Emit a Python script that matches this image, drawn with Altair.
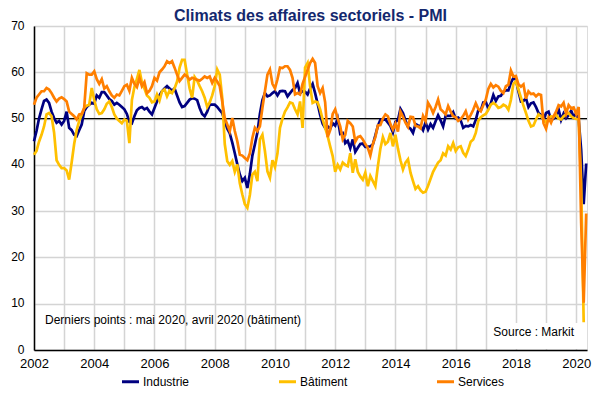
import altair as alt
import pandas as pd

START_YEAR = 2002
SERIES = ["Industrie", "Bâtiment", "Services"]
COLORS = ["#000080", "#FFC000", "#FF7F00"]
YEAR_TICKS = list(range(2002, 2021))
VALUE_TICKS = list(range(0, 80, 10))
TITLE = "Climats des affaires sectoriels  - PMI"
NOTE = "Derniers points : mai 2020, avril 2020 (bâtiment)"
SOURCE = "Source : Markit"

# Monthly values, Jan 2002 -> May 2020 (Bâtiment ends Apr 2020)
industrie = [
    45.1, 47.3, 50.0, 52.0, 53.8, 54.1, 53.4, 51.5, 50.1, 49.1, 49.5, 48.7,  # 2002
    49.5, 51.5, 48.0, 47.5, 46.5, 46.2, 47.5, 48.7, 51.6, 52.5, 53.0, 53.4,  # 2003
    53.2, 55.0, 54.5, 55.7, 55.7, 55.0, 54.2, 53.8, 53.0, 53.4, 53.0, 52.5,  # 2004
    52.0, 51.0, 49.3, 49.0, 50.5, 51.8, 52.3, 52.5, 52.0, 52.3, 51.5, 50.9,  # 2005
    52.3, 53.7, 55.0, 55.9, 56.5, 57.0, 56.5, 56.0, 56.5, 55.0, 53.5, 52.5,  # 2006
    52.7, 53.4, 54.1, 54.4, 54.3, 54.0, 52.3, 51.0, 50.5, 51.5, 53.0, 53.0,  # 2007
    53.0, 52.5, 51.8, 51.2, 49.4, 47.8, 46.8, 44.8, 42.5, 40.1, 37.9, 36.5,  # 2008
    37.2, 35.0, 38.0, 42.0, 44.4, 47.0, 51.0, 54.0, 55.5, 54.8, 55.0, 55.5,  # 2009
    55.9, 55.0, 55.9, 56.0, 55.9, 54.8, 55.5, 56.2, 56.6, 57.7, 55.5, 55.9,  # 2010
    55.8, 55.2, 56.5, 57.5, 55.5, 53.2, 50.8, 48.9, 48.0, 48.3, 47.8, 49.0,  # 2011
    48.5, 50.0, 46.7, 46.9, 44.7, 45.2, 43.6, 45.5, 42.8, 43.7, 44.5, 44.6,  # 2012
    43.9, 43.9, 44.0, 44.4, 46.4, 48.4, 49.7, 49.7, 49.8, 49.1, 48.4, 47.0,  # 2013
    49.3, 49.7, 52.1, 51.2, 49.6, 48.2, 47.8, 46.9, 48.8, 48.5, 48.4, 47.5,  # 2014
    49.2, 47.6, 48.8, 48.0, 49.4, 50.7, 49.6, 48.3, 50.6, 50.6, 50.6, 51.4,  # 2015
    50.0, 50.2, 49.6, 48.0, 48.4, 48.3, 48.6, 48.3, 49.7, 51.8, 51.7, 53.5,  # 2016
    53.6, 52.2, 53.3, 55.1, 53.8, 54.8, 54.9, 55.8, 56.1, 56.1, 57.7, 58.8,  # 2017
    58.4, 55.9, 53.7, 53.8, 54.4, 52.5, 53.3, 53.5, 52.5, 51.2, 50.8, 49.7,  # 2018
    51.2, 51.5, 49.7, 50.0, 50.6, 52.0, 49.7, 51.1, 50.1, 50.7, 51.7, 50.4,  # 2019
    51.1, 49.8, 43.2, 31.5, 40.3,                                            # 2020
]

batiment = [
    42.2, 43.0, 45.0, 46.5, 48.3, 50.9, 51.2, 50.5, 47.0, 41.0, 40.0, 39.3,  # 2002
    39.3, 38.8, 36.8, 40.5, 44.5, 47.5, 49.5, 50.8, 52.3, 52.8, 53.0, 56.6,  # 2003
    54.0, 52.0, 51.0, 51.2, 52.0, 53.2, 53.7, 52.5, 50.9, 50.0, 49.5, 49.0,  # 2004
    49.8, 49.5, 44.7, 54.0, 56.8, 58.6, 60.5, 57.8, 56.5, 55.0, 54.5, 53.5,  # 2005
    53.7, 55.2, 53.9, 55.9, 56.3, 54.8, 56.0, 55.5, 56.5, 58.0, 61.0, 62.7,  # 2006
    62.7, 59.5, 56.5, 54.5, 59.0, 58.2, 57.0, 55.9, 54.5, 52.5, 53.5, 55.0,  # 2007
    57.0, 60.6, 59.5, 54.5, 44.5, 40.8, 40.0, 40.8, 38.5, 40.1, 36.0, 33.6,  # 2008
    31.5, 30.7, 33.5, 37.9, 38.5, 36.5, 45.5, 46.5, 43.0, 38.6, 37.2, 41.0,  # 2009
    39.5, 42.5, 48.0, 50.0, 51.5, 52.4, 53.5, 53.3, 52.0, 50.9, 53.7, 48.0,  # 2010
    61.0, 62.0, 57.0, 53.4, 53.7, 53.5, 52.0, 49.8, 48.0, 46.2, 44.0, 41.9,  # 2011
    38.5, 40.0, 39.0, 40.5, 40.0, 39.7, 42.5, 38.3, 41.2, 38.5, 37.5, 36.8,  # 2012
    38.3, 35.4, 37.6, 36.5, 35.4, 39.7, 43.5, 46.0, 44.5, 45.0, 46.9, 44.0,  # 2013
    46.5, 43.5, 41.0, 39.0, 40.5, 41.2, 38.3, 36.5, 34.8, 35.4, 34.5, 34.0,  # 2014
    34.2, 35.5, 37.0, 38.5, 39.5, 40.5, 41.0, 42.5, 42.0, 44.0, 43.3, 44.7,  # 2015
    43.0, 43.8, 44.0, 42.6, 41.9, 43.3, 45.0, 45.5, 46.9, 49.5, 50.3, 50.7,  # 2016
    51.0, 51.9, 53.0, 53.4, 53.0, 52.3, 52.5, 53.0, 52.7, 51.9, 54.0, 57.5,  # 2017
    58.1, 56.3, 54.5, 52.8, 51.2, 49.5, 48.3, 48.5, 49.8, 50.9, 50.5, 49.8,  # 2018
    49.1, 50.0, 50.5, 50.3, 50.9, 50.0, 49.8, 50.5, 50.9, 51.2, 50.5, 50.1,  # 2019
    49.9, 49.8, 36.0, 6.0,                                                   # 2020
]

services = [
    53.0, 54.5, 55.2, 55.9, 55.9, 56.6, 56.3, 55.5, 54.5, 53.7, 54.3, 54.6,  # 2002
    54.2, 53.7, 51.5, 51.0, 50.5, 49.8, 50.9, 51.0, 52.3, 59.8, 59.5, 59.5,  # 2003
    60.2, 58.5, 57.5, 58.5, 56.5, 57.0, 55.9, 55.0, 54.5, 55.2, 55.0, 56.0,  # 2004
    57.0, 57.3, 56.0, 58.8, 57.5, 56.8, 58.8, 57.0, 57.9, 55.5, 56.0, 57.0,  # 2005
    58.8, 58.2, 60.0, 60.6, 61.3, 62.4, 62.0, 62.4, 61.0, 59.5, 58.1, 58.8,  # 2006
    59.5, 59.1, 58.4, 58.8, 58.6, 58.4, 58.2, 58.6, 59.1, 58.8, 59.1, 57.7,  # 2007
    58.8, 58.0, 57.0, 53.7, 50.1, 48.7, 47.3, 50.1, 47.3, 45.1, 42.2, 42.0,  # 2008
    41.5, 41.0, 42.5, 45.8, 48.0, 47.3, 48.3, 52.3, 55.9, 59.5, 60.6, 57.5,  # 2009
    56.5, 58.5, 61.0, 60.9, 61.3, 61.3, 60.5, 58.8, 55.2, 55.5, 55.2, 57.5,  # 2010
    59.0, 60.5, 62.0, 62.9, 62.0, 57.0, 55.5, 56.6, 53.5, 46.0, 47.5, 51.0,  # 2011
    52.0, 50.0, 48.3, 45.5, 46.5, 49.5, 49.0, 48.3, 45.0, 46.0, 46.2, 45.5,  # 2012
    44.5, 43.7, 42.0, 44.5, 46.0, 48.5, 48.6, 50.0, 50.9, 50.5, 48.8, 47.6,  # 2013
    48.9, 47.2, 51.5, 50.4, 49.1, 48.2, 50.4, 50.3, 48.4, 48.3, 47.9, 50.6,  # 2014
    49.5, 53.4, 52.5, 51.2, 52.5, 54.1, 52.0, 51.5, 50.9, 52.7, 51.5, 50.5,  # 2015
    50.3, 49.5, 49.9, 50.6, 51.6, 49.8, 50.8, 51.9, 53.3, 52.1, 51.6, 52.9,  # 2016
    54.1, 56.4, 57.5, 56.7, 57.2, 56.9, 56.0, 55.5, 57.0, 57.3, 60.4, 59.1,  # 2017
    59.2, 57.4, 56.9, 57.4, 54.3, 55.9, 55.3, 55.4, 54.8, 55.3, 55.1, 49.0,  # 2018
    47.8, 50.2, 49.1, 50.5, 51.5, 52.9, 52.6, 53.4, 51.1, 52.9, 52.2, 52.4,  # 2019
    51.0, 52.5, 27.4, 10.2, 29.5,                                            # 2020
]

rows = []
for name, vals in zip(SERIES, [industrie, batiment, services]):
    for i, v in enumerate(vals):
        rows.append({"t": START_YEAR + i / 12.0, "valeur": v, "serie": name})
df = pd.DataFrame(rows)

FONT = "Liberation Sans"

x_enc = alt.X(
    "t:Q",
    scale=alt.Scale(domain=[2002, 2020.36], nice=False, zero=False),
    axis=alt.Axis(
        values=YEAR_TICKS, format="d",
        labelExpr="datum.value % 2 == 0 ? datum.label : ''",
        title=None, grid=True, gridColor="#D4D4D4", gridWidth=1.5,
        domainColor="#000000", domainWidth=1.5,
        tickColor="#D4D4D4", tickSize=0,
        labelFont=FONT, labelFontSize=13, labelColor="#000000", labelPadding=7,
        labelFlush=False,
    ),
)
y_enc = alt.Y(
    "valeur:Q",
    scale=alt.Scale(domain=[0, 70], nice=False),
    axis=alt.Axis(
        values=VALUE_TICKS, title=None, grid=True, gridColor="#D4D4D4", gridWidth=1.5,
        domainColor="#000000", domainWidth=1.5, ticks=False,
        labelFont=FONT, labelFontSize=12, labelColor="#000000", labelPadding=10,
        labelOffset=-1,
    ),
)

lines = alt.Chart(df).mark_line(strokeWidth=2.7).encode(
    x=x_enc,
    y=y_enc,
    color=alt.Color(
        "serie:N",
        scale=alt.Scale(domain=SERIES, range=COLORS),
        sort=SERIES,
        legend=alt.Legend(
            title=None, orient="none", legendX=86, legendY=345,
            direction="horizontal", symbolType="stroke", symbolStrokeWidth=3,
            symbolSize=290, labelFont=FONT, labelFontSize=12, labelColor="#000000",
            columnPadding=82, labelOffset=2,
        ),
    ),
)

rule50 = alt.Chart(pd.DataFrame({"y": [50]})).mark_rule(color="#000000", strokeWidth=1.2).encode(
    y=alt.Y("y:Q", scale=alt.Scale(domain=[0, 70]))
)

note = alt.Chart(pd.DataFrame({"txt": [NOTE]})).mark_text(
    align="left", baseline="middle", font=FONT, fontSize=12, color="#000000"
).encode(x=alt.value(11), y=alt.value(294), text="txt:N")

src_box = alt.Chart(pd.DataFrame({"a": [0]})).mark_rect(fill="#FFFFFF", strokeWidth=0).encode(
    x=alt.value(454), x2=alt.value(552), y=alt.value(297), y2=alt.value(323)
)
src = alt.Chart(pd.DataFrame({"txt": [SOURCE]})).mark_text(
    align="right", baseline="middle", font=FONT, fontSize=12, color="#000000"
).encode(x=alt.value(540), y=alt.value(306), text="txt:N")

chart = alt.layer(rule50, lines, src_box, note, src).properties(
    width=553, height=324,
    title=alt.TitleParams(TITLE, font=FONT, fontSize=16, fontWeight="bold",
                          color="#14286E", anchor="middle", dx=0, offset=-4.5),
    autosize=alt.AutoSizeParams(type="none"),
    padding={"left": 26, "top": 18, "right": 13, "bottom": 39},
).configure_view(stroke="#555555", strokeWidth=1.5).configure(background="#FFFFFF")

chart.save("out.html", embed_options={"renderer": "svg", "actions": False})
